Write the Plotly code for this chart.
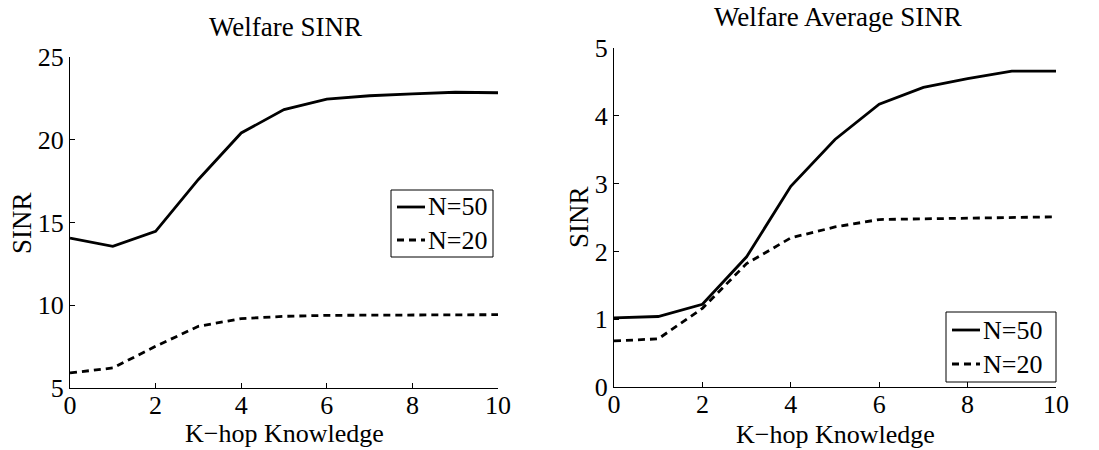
import plotly.graph_objects as go

# K-hop knowledge levels
k_hops = [0, 1, 2, 3, 4, 5, 6, 7, 8, 9, 10]

# Welfare SINR (total)
sinr_n50 = [14.06, 13.56, 14.47, 17.6, 20.41, 21.82, 22.46, 22.66, 22.77, 22.87, 22.84]
sinr_n20 = [5.91, 6.21, 7.52, 8.73, 9.19, 9.33, 9.39, 9.41, 9.43, 9.43, 9.43]

# Welfare average SINR
avg_n50 = [1.02, 1.04, 1.22, 1.92, 2.96, 3.65, 4.17, 4.42, 4.55, 4.66, 4.66]
avg_n20 = [0.68, 0.71, 1.16, 1.82, 2.20, 2.36, 2.47, 2.48, 2.49, 2.50, 2.51]

series_names = ["N=50", "N=20"]
x_ticks = [0, 2, 4, 6, 8, 10]
left_y_ticks = [5, 10, 15, 20, 25]
right_y_ticks = [0, 1, 2, 3, 4, 5]

W, H = 1099, 450
FONT = "Liberation Serif"
LINE_W = 2.8
DASHES = ["solid", "7px,5px"]


def px_x(p):
    return p / W


def px_y(p):
    return 1 - p / H


fig = go.Figure()

for name, ys, dash in zip(series_names, [sinr_n50, sinr_n20], DASHES):
    fig.add_trace(go.Scatter(x=k_hops, y=ys, mode="lines", name=name,
                             line=dict(color="black", width=LINE_W, dash=dash),
                             xaxis="x", yaxis="y", showlegend=False))
for name, ys, dash in zip(series_names, [avg_n50, avg_n20], DASHES):
    fig.add_trace(go.Scatter(x=k_hops, y=ys, mode="lines", name=name,
                             line=dict(color="black", width=LINE_W, dash=dash),
                             xaxis="x2", yaxis="y2", showlegend=False))

axis_common = dict(showline=True, linecolor="black", linewidth=1,
                   ticks="inside", ticklen=5, tickcolor="black",
                   showgrid=False, zeroline=False, mirror=False, automargin=False,
                   tickfont=dict(family=FONT, size=26, color="black"))

fig.update_layout(
    template="none",
    width=W, height=H,
    margin=dict(l=0, r=0, t=0, b=0),
    paper_bgcolor="white", plot_bgcolor="white",
    font=dict(family=FONT, color="black"),
    showlegend=False,
    xaxis=dict(domain=[px_x(70), px_x(498)], range=[0, 10], tickvals=x_ticks,
               anchor="y", ticklabelstandoff=-6, **axis_common),
    yaxis=dict(domain=[px_y(388), px_y(57)], range=[5, 25], tickvals=left_y_ticks,
               anchor="x", ticklabelstandoff=0, **axis_common),
    xaxis2=dict(domain=[px_x(614), px_x(1056)], range=[0, 10], tickvals=x_ticks,
                anchor="y2", ticklabelstandoff=-6, **axis_common),
    yaxis2=dict(domain=[px_y(387), px_y(48)], range=[0, 5], tickvals=right_y_ticks,
                anchor="x2", ticklabelstandoff=0, **axis_common),
)


def label(text, x, y, size, angle=0, xanchor="center"):
    fig.add_annotation(text=text, x=px_x(x), y=px_y(y), xref="paper", yref="paper",
                       showarrow=False, textangle=angle, xanchor=xanchor, yanchor="middle",
                       font=dict(family=FONT, size=size, color="black"))


# Titles and axis labels
label("Welfare SINR", 285, 27, 27)
label("Welfare Average SINR", 838, 17, 27)
label("K\u2212hop Knowledge", 284, 433, 26)
label("K\u2212hop Knowledge", 835, 434, 26)
label("SINR", 22, 223, 27, angle=-90)
label("SINR", 579, 217, 27, angle=-90)


# Boxed legend with a short line sample beside each series name
def boxed_legend(left, top, right, bottom, rows, sx0, sx1):
    fig.add_shape(type="rect", xref="paper", yref="paper",
                  x0=px_x(left), x1=px_x(right), y0=px_y(bottom), y1=px_y(top),
                  line=dict(color="black", width=1), fillcolor="white", layer="above")
    for name, dash, ry in zip(series_names, DASHES, rows):
        fig.add_shape(type="line", xref="paper", yref="paper",
                      x0=px_x(sx0), x1=px_x(sx1), y0=px_y(ry), y1=px_y(ry),
                      line=dict(color="black", width=LINE_W, dash=dash), layer="above")
        label(name, sx1 + 1, ry, 26, xanchor="left")


boxed_legend(391, 190, 493, 257, [207, 240], 397, 425)
boxed_legend(946, 312, 1056, 382, [330, 364], 952, 980)

fig.write_html("out.html")
